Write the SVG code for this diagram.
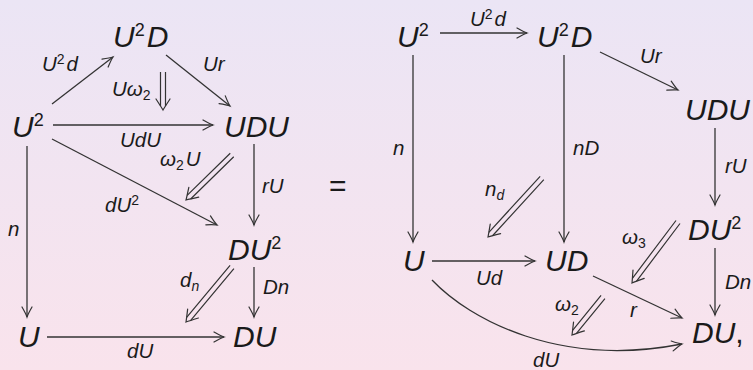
<svg xmlns="http://www.w3.org/2000/svg" width="753" height="370" viewBox="0 0 753 370">
<defs>
<linearGradient id="bg" x1="0" y1="0" x2="0" y2="1">
<stop offset="0" stop-color="#ebe5f5"/>
<stop offset="1" stop-color="#f9e3ec"/>
</linearGradient>
<marker id="ah" markerUnits="userSpaceOnUse" markerWidth="16" markerHeight="16" viewBox="-13 -8 16 16" refX="0" refY="0" orient="auto" overflow="visible">
<path d="M -10 -5 Q -3 -1 0 0 Q -3 1 -10 5" fill="none" stroke="#333" stroke-width="1.2" stroke-linecap="round"/>
</marker>
<marker id="dh" markerUnits="userSpaceOnUse" markerWidth="20" markerHeight="20" viewBox="-14 -10 20 20" refX="0" refY="0" orient="auto" overflow="visible">
<path d="M -11 -7 Q -3 -1.8 0 0 Q -3 1.8 -11 7" fill="none" stroke="#333" stroke-width="1.2" stroke-linecap="round"/>
</marker>
</defs>
<style>
.n{font-family:"Liberation Sans",Arial,sans-serif;font-style:italic;font-size:30px;fill:#1a1a1a}
.l{font-family:"Liberation Sans",Arial,sans-serif;font-style:italic;font-size:20.5px;fill:#1a1a1a}
.up{font-style:normal}
.ar{fill:none;stroke:#333;stroke-width:1.3;marker-end:url(#ah)}
.dl{fill:none;stroke:#333;stroke-width:1.2}
.dc{fill:none;stroke:none;marker-end:url(#dh)}
</style>
<rect width="753" height="370" fill="url(#bg)"/>

<!-- Left diagram nodes -->
<g id="L_U2D"><text class="n" x="113" y="47">U<tspan class="up" font-size="18" dy="-11">2</tspan><tspan dx="2" dy="11">D</tspan></text></g>
<g id="L_U2"><text class="n" x="12" y="137">U<tspan class="up" font-size="18" dy="-11">2</tspan></text></g>
<g id="L_UDU"><text class="n" x="224" y="137">UDU</text></g>
<g id="L_DU2"><text class="n" x="228" y="260">DU<tspan class="up" font-size="18" dy="-11">2</tspan></text></g>
<g id="L_U"><text class="n" x="18" y="347">U</text></g>
<g id="L_DU"><text class="n" x="233" y="347">DU</text></g>

<g id="eq"><text class="n up" x="329" y="196">=</text></g>

<!-- Right diagram nodes -->
<g id="R_U2"><text class="n" x="397" y="47">U<tspan class="up" font-size="18" dy="-11">2</tspan></text></g>
<g id="R_U2D"><text class="n" x="537" y="47">U<tspan class="up" font-size="18" dy="-11">2</tspan><tspan dx="2" dy="11">D</tspan></text></g>
<g id="R_UDU"><text class="n" x="685" y="120">UDU</text></g>
<g id="R_DU2"><text class="n" x="688" y="240">DU<tspan class="up" font-size="18" dy="-11">2</tspan></text></g>
<g id="R_U"><text class="n" x="403" y="271">U</text></g>
<g id="R_UD"><text class="n" x="545" y="271">UD</text></g>
<g id="R_DU"><text class="n" x="692" y="343">DU<tspan class="up">,</tspan></text></g>

<!-- Connectors -->
<g id="connectors">
<!-- left -->
<path class="ar" d="M52 104 L113 57"/>
<path class="ar" d="M166 55 L230 106"/>
<path class="ar" d="M53 125 L213 125"/>
<path class="ar" d="M52 139 L217 225"/>
<path class="ar" d="M254 144 L254 225"/>
<path class="ar" d="M27 146 L27 317"/>
<path class="ar" d="M254 267 L254 317"/>
<path class="ar" d="M47 337 L224 337"/>
<!-- left double arrows -->
<path class="dl" d="M160.5 72 L160.5 106 M165.5 72 L165.5 106"/>
<path class="dc" d="M163 100 L163 110"/>
<path class="dl" d="M230.25 153.21 L187.11 195.41 M233.75 156.79 L190.61 198.99"/>
<path class="dc" d="M193.2 192.8 L186 200"/>
<path class="dl" d="M230.08 265.4 L186.65 317.33 M233.92 268.6 L190.49 320.53"/>
<path class="dc" d="M192.4 314.3 L186 322"/>
<!-- right -->
<path class="ar" d="M440 33 L527 33"/>
<path class="ar" d="M600 52 L678 90"/>
<path class="ar" d="M413 55 L413 242"/>
<path class="ar" d="M564 55 L564 242"/>
<path class="ar" d="M715 128 L715 205"/>
<path class="ar" d="M432 261 L535 261"/>
<path class="ar" d="M715 248 L715 315"/>
<path class="ar" d="M593 276 L682 318"/>
<path class="ar" d="M432 280 C470 320 560 368 682 344"/>
<!-- right double arrows -->
<path class="dl" d="M540.16 176.31 L488.86 232.36 M543.84 179.69 L492.54 235.74"/>
<path class="dc" d="M494.75 229.6 L488 237"/>
<path class="dl" d="M676 220.5 L632.41 278.31 M680 223.5 L636.41 281.31"/>
<path class="dc" d="M638 275 L632 283"/>
<path class="dl" d="M601.06 295.42 L572.59 330.32 M604.94 298.58 L576.47 333.48"/>
<path class="dc" d="M578.3 327.3 L572 335"/>
</g>

<!-- Labels -->
<g id="labels">
<text class="l" x="42" y="71">U<tspan class="up" font-size="14" dy="-7">2</tspan><tspan dx="2" dy="7">d</tspan></text>
<text class="l" x="203" y="71">Ur</text>
<text class="l" x="112" y="96">Uω<tspan class="up" font-size="14" dy="4">2</tspan></text>
<text class="l" x="120" y="147">UdU</text>
<text class="l" x="160" y="166">ω<tspan class="up" font-size="14" dy="4">2</tspan><tspan dx="2" dy="-4">U</tspan></text>
<text class="l" x="105" y="212">dU<tspan class="up" font-size="14" dy="-7">2</tspan></text>
<text class="l" x="262" y="193">rU</text>
<text class="l" x="8" y="236">n</text>
<text class="l" x="180" y="287">d<tspan font-size="14" dy="4">n</tspan></text>
<text class="l" x="263" y="294">Dn</text>
<text class="l" x="127" y="358">dU</text>

<text class="l" x="470" y="26">U<tspan class="up" font-size="14" dy="-7">2</tspan><tspan dx="2" dy="7">d</tspan></text>
<text class="l" x="640" y="63">Ur</text>
<text class="l" x="393" y="155">n</text>
<text class="l" x="573" y="155">nD</text>
<text class="l" x="725" y="173">rU</text>
<text class="l" x="485" y="196">n<tspan font-size="14" dy="4">d</tspan></text>
<text class="l" x="476" y="285">Ud</text>
<text class="l" x="622" y="244">ω<tspan class="up" font-size="14" dy="4">3</tspan></text>
<text class="l" x="555" y="311">ω<tspan class="up" font-size="14" dy="4">2</tspan></text>
<text class="l" x="630" y="317">r</text>
<text class="l" x="725" y="289">Dn</text>
<text class="l" x="533" y="367">dU</text>
</g>
</svg>
